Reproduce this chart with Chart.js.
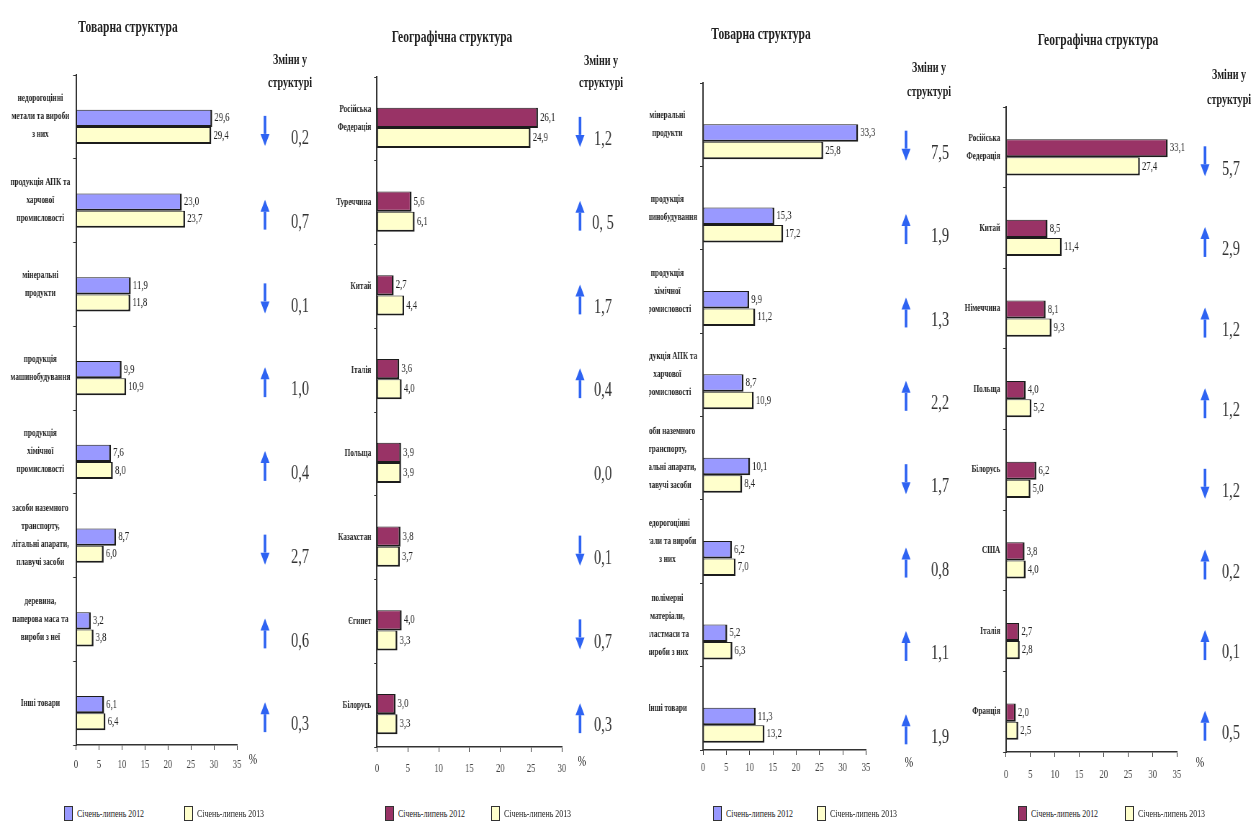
<!DOCTYPE html>
<html lang="uk">
<head>
<meta charset="utf-8">
<title>Товарна та географічна структура</title>
<script src="https://cdn.jsdelivr.net/npm/chart.js@4.4.1/dist/chart.umd.min.js"></script>
<style>
  html, body { margin: 0; padding: 0; background: #fff; }
  #page { position: relative; width: 1253px; height: 823px; overflow: hidden;
          font-family: "Liberation Serif", serif; color: #222; }
  #page canvas { position: absolute; top: 0; transform-origin: 0 0; }
  .t { position: absolute; white-space: nowrap; transform: translate(-50%, -50%) scaleX(0.72); }
  .title { font-size: 16px; font-weight: bold; }
  .head { font-size: 14px; font-weight: bold; }
  .pct { font-size: 14px; }
  .leg { position: absolute; top: 806px; height: 14px; display: flex; align-items: center; font-size: 11px; white-space: nowrap; }
  .leg i { display: inline-block; width: 7px; height: 13px; border: 1px solid #333; margin-right: 4px; }
  .leg span { display: inline-block; transform: scaleX(0.72); transform-origin: left center; }
</style>
</head>
<body>
<div id="page"></div>
<script>
// Two series in every panel: Jan–Jul 2012 vs Jan–Jul 2013, share in %
const seriesNames = ["Січень-липень 2012", "Січень-липень 2013"]

// panel 1 — товарна структура (left pair)
const goodsALabels = [
  ["недорогоцінні", "метали та вироби", "з них"],
  ["продукція АПК та", "харчової", "промисловості"],
  ["мінеральні", "продукти"],
  ["продукція", "машинобудування"],
  ["продукція", "хімічної", "промисловості"],
  ["засоби наземного", "транспорту,", "літальні апарати,", "плавучі засоби"],
  ["деревина,", "паперова маса та", "вироби з неї"],
  ["Інші товари"]
]
const goodsA2012 = [29.6, 23.0, 11.9, 9.9, 7.6, 8.7, 3.2, 6.1]
const goodsA2013 = [29.4, 23.7, 11.8, 10.9, 8.0, 6.0, 3.8, 6.4]
const goodsAChange = ["0,2", "0,7", "0,1", "1,0", "0,4", "2,7", "0,6", "0,3"]

// panel 2 — географічна структура (left pair)
const geoALabels = [["Російська", "Федерація"], "Туреччина", "Китай", "Італія", "Польща", "Казахстан", "Єгипет", "Білорусь"]
const geoA2012 = [26.1, 5.6, 2.7, 3.6, 3.9, 3.8, 4.0, 3.0]
const geoA2013 = [24.9, 6.1, 4.4, 4.0, 3.9, 3.7, 3.3, 3.3]
const geoAChange = ["1,2", "0, 5", "1,7", "0,4", "0,0", "0,1", "0,7", "0,3"]

// panel 3 — товарна структура (right pair)
const goodsBLabels = [
  ["мінеральні", "продукти"],
  ["продукція", "машинобудування"],
  ["продукція", "хімічної", "промисловості"],
  ["продукція АПК та", "харчової", "промисловості"],
  ["засоби наземного", "транспорту,", "літальні апарати,", "плавучі засоби"],
  ["недорогоцінні", "метали та вироби", "з них"],
  ["полімерні", "матеріали,", "пластмаси та", "вироби з них"],
  ["Інші товари"]
]
const goodsB2012 = [33.3, 15.3, 9.9, 8.7, 10.1, 6.2, 5.2, 11.3]
const goodsB2013 = [25.8, 17.2, 11.2, 10.9, 8.4, 7.0, 6.3, 13.2]
const goodsBChange = ["7,5", "1,9", "1,3", "2,2", "1,7", "0,8", "1,1", "1,9"]

// panel 4 — географічна структура (right pair)
const geoBLabels = [["Російська", "Федерація"], "Китай", "Німеччина", "Польща", "Білорусь", "США", "Італія", "Франція"]
const geoB2012 = [33.1, 8.5, 8.1, 4.0, 6.2, 3.8, 2.7, 2.0]
const geoB2013 = [27.4, 11.4, 9.3, 5.2, 5.0, 4.0, 2.8, 2.5]
const geoBChange = ["5,7", "2,9", "1,2", "1,2", "1,2", "0,2", "0,1", "0,5"]

const xTicksGoods = 35
const xTicksGeoA  = 30
const xTicksGeoB  = 35

const BLUE   = "#9999ff"
const MAROON = "#993366"
const YELLOW = "#ffffcc"
const ARROW  = "#2e63f2"
const INK    = "#222"

// the source picture is squeezed sideways; canvases are drawn wide and scaled by SQ
const SQ = 0.72

// page layout, px in the 1253×823 picture
const panels = [
  { title: "Товарна структура", titleXY: [128, 27], head: [290, 60, 83], pct: [253, 760], legend: [64, 184],
    labels: goodsALabels, a: goodsA2012, b: goodsA2013, change: goodsAChange, max: xTicksGoods, color: BLUE,
    left: 0, width: 320, axisX: 76, right: 237, top: 75, bottom: 745, dy: 10, cat: 0.41, align: "center",
    arrowX: 265, valueX: 300, tickPad: 8 },
  { title: "Географічна структура", titleXY: [452, 37], head: [601, 61, 83], pct: [582, 762], legend: [385, 491],
    labels: geoALabels, a: geoA2012, b: geoA2013, change: geoAChange, max: xTicksGeoA, color: MAROON,
    left: 322, width: 318, axisX: 377, right: 562, top: 77, bottom: 747, dy: 9, cat: 0.48, align: "near",
    arrowX: 580, valueX: 603, tickPad: 10 },
  { title: "Товарна структура", titleXY: [761, 34], head: [929, 68, 92], pct: [909, 763], legend: [713, 817],
    labels: goodsBLabels, a: goodsB2012, b: goodsB2013, change: goodsBChange, max: xTicksGoods, color: BLUE,
    left: 649, width: 304, axisX: 703, right: 866, top: 83, bottom: 750, dy: 17, cat: 0.42, align: "center",
    arrowX: 906, valueX: 940, tickPad: 6 },
  { title: "Географічна структура", titleXY: [1098, 40], head: [1229, 75, 100], pct: [1200, 763], legend: [1018, 1125],
    labels: geoBLabels, a: geoB2012, b: geoB2013, change: geoBChange, max: xTicksGeoB, color: MAROON,
    left: 955, width: 298, axisX: 1006, right: 1177, top: 107, bottom: 752, dy: 10, cat: 0.45, align: "near",
    arrowX: 1205, valueX: 1231, tickPad: 11 }
]

const CANVAS_H = 800
const X_AXIS_H = 40
const fmt = (v) => v.toFixed(1).replace(".", ",")

Chart.defaults.font.family = "'Liberation Serif', serif"
Chart.defaults.color = INK

// Excel drew the bar pairs a bit below the middle of each band
const barShift = {
  id: "barShift",
  beforeDatasetsDraw(chart, args, opts) { chart.ctx.save(); chart.ctx.translate(0, opts.dy || 0) },
  afterDatasetsDraw(chart) { chart.ctx.restore() }
}

function drawArrow(ctx, x, yc, dir) {   // dir > 0 points up; widths are pre-squeeze
  const len = 30, head = 12, hw = 4.5 / SQ, sw = 1.3 / SQ
  const tip = yc - dir * len / 2, tail = yc + dir * len / 2, base = tip + dir * head
  ctx.fillStyle = ARROW
  ctx.fillRect(x - sw, Math.min(base, tail), sw * 2, Math.abs(tail - base))
  ctx.beginPath()
  ctx.moveTo(x, tip)
  ctx.lineTo(x - hw, base)
  ctx.lineTo(x + hw, base)
  ctx.closePath()
  ctx.fill()
}

// value at the end of each bar + the "Зміни у структурі" column
const annotations = {
  id: "annotations",
  afterDraw(chart, args, opts) {
    const ctx = chart.ctx
    const dy = opts.dy || 0
    ctx.save()
    ctx.font = "12px 'Liberation Serif'"
    ctx.fillStyle = INK
    ctx.textBaseline = "middle"
    ctx.textAlign = "left"
    chart.data.datasets.forEach((ds, di) => {
      chart.getDatasetMeta(di).data.forEach((bar, i) => {
        ctx.fillText(fmt(ds.data[i]), bar.x + 3, bar.y + dy)
      })
    })

    const yScale = chart.scales.y
    const a = chart.data.datasets[0].data
    const b = chart.data.datasets[1].data
    opts.change.forEach((txt, i) => {
      const yc = yScale.getPixelForValue(i) + dy
      const dir = Math.sign(Math.round((b[i] - a[i]) * 10))
      if (dir) drawArrow(ctx, opts.arrowX, yc + 4, dir)
      ctx.font = "20px 'Liberation Serif'"
      ctx.fillStyle = "#333"
      ctx.textAlign = "center"
      ctx.fillText(txt, opts.valueX, yc + 12)
    })
    ctx.restore()
  }
}

const page = document.getElementById("page")

function addText(cls, txt, x, y) {
  const d = document.createElement("div")
  d.className = "t " + cls
  d.textContent = txt
  d.style.left = x + "px"
  d.style.top = y + "px"
  page.appendChild(d)
}

function addLegend(x, color, txt) {
  const d = document.createElement("div")
  d.className = "leg"
  d.style.left = x + "px"
  d.innerHTML = `<i style="background:${color}"></i><span>${txt}</span>`
  page.appendChild(d)
}

panels.forEach((p) => {
  const loc = (px) => (px - p.left) / SQ     // page x -> unsqueezed canvas x
  const w = Math.round(p.width / SQ)
  const canvas = document.createElement("canvas")
  canvas.width = w
  canvas.height = CANVAS_H
  canvas.style.left = p.left + "px"
  page.appendChild(canvas)

  const barStyle = {
    borderColor: "#1c1c1c",
    borderWidth: { top: 1, left: 1, right: 2.5, bottom: 2 },
    borderSkipped: false
  }

  new Chart(canvas, {
    type: "bar",
    data: {
      labels: p.labels,
      datasets: [
        { label: seriesNames[0], data: p.a, backgroundColor: p.color, ...barStyle },
        { label: seriesNames[1], data: p.b, backgroundColor: YELLOW, ...barStyle }
      ]
    },
    options: {
      indexAxis: "y",
      responsive: false,
      animation: false,
      categoryPercentage: p.cat,
      barPercentage: 1,
      layout: { padding: { top: p.top, right: w - loc(p.right), bottom: CANVAS_H - p.bottom - X_AXIS_H, left: 0 } },
      plugins: {
        legend: { display: false },
        tooltip: { enabled: false },
        barShift: { dy: p.dy },
        annotations: { dy: p.dy, change: p.change, arrowX: loc(p.arrowX), valueX: loc(p.valueX) }
      },
      scales: {
        x: {
          min: 0,
          max: p.max,
          ticks: { stepSize: 5, autoSkip: false, padding: p.tickPad, color: "#444", font: { size: 12 } },
          grid: { drawOnChartArea: false, drawTicks: true, tickLength: 5, color: "#333" },
          border: { color: "#333", width: 1.5 },
          afterFit: (s) => { s.height = X_AXIS_H }
        },
        y: {
          ticks: { crossAlign: p.align, autoSkip: false, padding: 4, color: INK,
                   font: { size: 10, weight: "bold", lineHeight: 1.8 } },
          grid: { drawOnChartArea: false, drawTicks: true, tickLength: 4, color: "#333", offset: true },
          border: { color: "#333", width: 2 },
          afterFit: (s) => { s.width = loc(p.axisX) }
        }
      }
    },
    plugins: [barShift, annotations]
  })
  canvas.style.transform = `scaleX(${SQ})`

  addText("title", p.title, p.titleXY[0], p.titleXY[1])
  addText("head", "Зміни у", p.head[0], p.head[1])
  addText("head", "структурі", p.head[0], p.head[2])
  addText("pct", "%", p.pct[0], p.pct[1])
  addLegend(p.legend[0], p.color, seriesNames[0])
  addLegend(p.legend[1], YELLOW, seriesNames[1])
})
</script>
</body>
</html>
